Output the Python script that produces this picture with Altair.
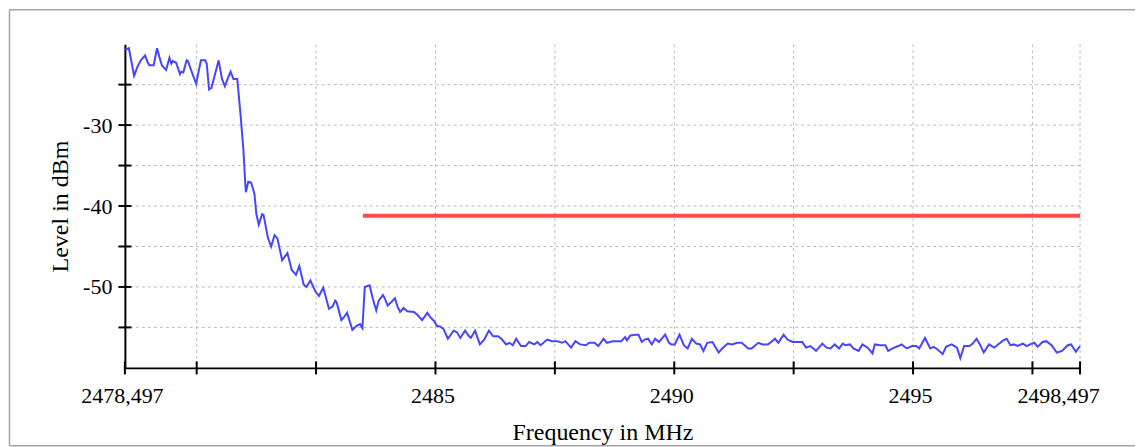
import altair as alt
import pandas as pd

# ---- measured trace (frequency in MHz, level in dBm) ----
freq_a = [2478.50, 2478.58, 2478.69, 2478.76, 2478.83, 2478.92, 2478.97, 2479.01, 2479.10, 2479.17,
          2479.22, 2479.27, 2479.36, 2479.43, 2479.47, 2479.50, 2479.57, 2479.65, 2479.68, 2479.72,
          2479.79, 2479.82, 2479.87, 2479.99, 2480.04, 2480.09, 2480.18, 2480.21, 2480.26, 2480.31,
          2480.35, 2480.46, 2480.53, 2480.59, 2480.66, 2480.71, 2480.77, 2480.85, 2480.92]
level_a = [-20.7, -20.5, -23.9, -22.8, -22.0, -21.4, -22.2, -22.6, -22.6, -20.5,
           -21.6, -22.6, -23.2, -21.7, -22.4, -22.1, -22.3, -23.7, -23.4, -23.5,
           -22.0, -22.1, -23.0, -24.9, -23.4, -22.0, -22.0, -22.4, -25.6, -25.4,
           -24.5, -22.0, -24.3, -25.2, -24.1, -23.4, -24.3, -24.3, -28.8]

freq_b = [2480.98, 2481.01, 2481.03, 2481.08, 2481.14, 2481.21, 2481.25, 2481.30, 2481.37, 2481.40,
          2481.49, 2481.56, 2481.63, 2481.69, 2481.79, 2481.90, 2481.99, 2482.08, 2482.15]
level_b = [-33.2, -36.5, -38.3, -37.0, -37.1, -38.5, -41.0, -42.3, -41.0, -41.1,
           -43.9, -45.0, -43.6, -44.0, -46.7, -45.8, -47.9, -48.5, -47.4]

freq_c = [2482.24, 2482.30, 2482.38, 2482.49, 2482.56, 2482.65, 2482.77, 2482.85, 2482.90, 2482.93,
          2483.03, 2483.09, 2483.15, 2483.26, 2483.35, 2483.42, 2483.47, 2483.52, 2483.62, 2483.69,
          2483.76, 2483.81, 2483.90, 2483.93, 2484.00, 2484.07, 2484.15, 2484.21, 2484.26, 2484.33,
          2484.41, 2484.55, 2484.63, 2484.72, 2484.83, 2484.90, 2484.97, 2485.03, 2485.10, 2485.17,
          2485.26, 2485.38, 2485.45, 2485.52, 2485.62, 2485.69, 2485.74, 2485.83, 2485.93, 2486.02,
          2486.12, 2486.21, 2486.31, 2486.38, 2486.48, 2486.55, 2486.62, 2486.69, 2486.79, 2486.89,
          2486.96, 2487.07, 2487.13, 2487.20, 2487.34, 2487.44, 2487.55, 2487.65, 2487.72, 2487.84,
          2487.93, 2488.03]
level_c = [-49.7, -50.0, -49.2, -50.6, -51.1, -50.1, -52.7, -52.4, -51.7, -51.9,
           -54.1, -53.7, -53.2, -55.3, -54.8, -54.6, -55.1, -50.0, -49.8, -51.5,
           -52.9, -51.7, -51.0, -51.3, -52.3, -51.9, -51.4, -52.5, -53.1, -52.6,
           -53.0, -53.1, -53.5, -54.1, -53.2, -53.8, -54.2, -54.8, -54.9, -55.2,
           -56.4, -55.4, -55.6, -56.3, -55.4, -56.0, -56.3, -55.4, -57.1, -56.5,
           -55.4, -56.1, -56.1, -56.4, -57.1, -56.9, -57.2, -56.4, -57.3, -57.3,
           -56.8, -57.1, -56.8, -57.2, -56.5, -56.7, -56.7, -56.9, -56.7, -57.5,
           -56.7, -57.1]

freq_d = [2488.15, 2488.22, 2488.33, 2488.41, 2488.52, 2488.59, 2488.71, 2488.82, 2488.89, 2488.97,
          2489.01, 2489.08, 2489.19, 2489.25, 2489.32, 2489.38, 2489.45, 2489.53, 2489.60, 2489.68,
          2489.81, 2489.89, 2489.94, 2490.01, 2490.11, 2490.20, 2490.28, 2490.37, 2490.46, 2490.54,
          2490.61, 2490.69, 2490.80, 2490.93, 2491.02, 2491.12, 2491.21, 2491.32, 2491.41, 2491.55,
          2491.62, 2491.76, 2491.85, 2491.96, 2492.03, 2492.11, 2492.18, 2492.29, 2492.37, 2492.48,
          2492.59, 2492.68, 2492.76, 2492.85, 2492.97, 2493.10, 2493.19, 2493.27, 2493.36, 2493.45,
          2493.53, 2493.58, 2493.68, 2493.75, 2493.86, 2493.94, 2494.05, 2494.15, 2494.20, 2494.31,
          2494.42, 2494.48, 2494.57, 2494.69, 2494.76, 2494.87, 2494.98, 2495.07, 2495.13, 2495.25,
          2495.36, 2495.43, 2495.51, 2495.62, 2495.69, 2495.81, 2495.92, 2495.99, 2496.07, 2496.18,
          2496.25, 2496.33, 2496.40, 2496.48, 2496.59, 2496.70, 2496.78, 2496.89, 2496.96, 2497.04,
          2497.11, 2497.19, 2497.30, 2497.38, 2497.45, 2497.54, 2497.61, 2497.71, 2497.79, 2497.90,
          2498.01, 2498.12, 2498.24, 2498.31, 2498.41, 2498.497]
level_d = [-57.2, -56.9, -56.9, -57.3, -56.4, -56.9, -56.7, -56.7, -56.7, -56.2,
           -56.6, -56.0, -55.9, -55.9, -56.8, -56.5, -56.4, -57.1, -56.4, -56.8,
           -55.9, -56.9, -57.1, -57.1, -55.9, -57.2, -57.6, -56.4, -57.0, -57.1,
           -57.9, -56.9, -56.8, -58.1, -57.5, -57.0, -57.1, -56.9, -56.9, -57.6,
           -57.6, -56.9, -57.1, -57.1, -56.8, -56.4, -56.9, -55.9, -56.5, -56.8,
           -56.8, -56.8, -57.5, -57.3, -57.9, -57.0, -57.5, -57.6, -57.1, -57.6,
           -57.0, -57.2, -57.1, -57.6, -57.9, -57.1, -57.5, -58.2, -57.1, -57.2,
           -57.2, -57.9, -57.6, -57.3, -57.1, -57.6, -57.3, -57.3, -57.6, -56.3,
           -57.6, -57.4, -57.7, -58.3, -57.4, -57.1, -57.5, -58.8, -57.3, -57.3,
           -57.0, -56.4, -57.1, -58.1, -57.1, -57.5, -57.1, -56.6, -56.4, -57.2,
           -57.1, -57.3, -57.0, -57.3, -57.1, -56.9, -57.4, -56.8, -56.7, -57.2,
           -58.1, -57.9, -57.2, -57.1, -58.0, -57.3]

# limit line
limit_freq = [2483.48, 2498.497]
limit_level = [-41.2, -41.2]

# axes
x_domain = [2478.497, 2498.497]
y_domain = [-60, -20]
x_label_values = [2478.497, 2485, 2490, 2495, 2498.497]
x_tick_values = [2478.497, 2480, 2482.5, 2485, 2487.5, 2490, 2492.5, 2495, 2497.5, 2498.497]
x_grid_values = [2480, 2482.5, 2485, 2487.5, 2490, 2492.5, 2495, 2497.5, 2498.497]
y_label_values = [-50, -40, -30]
y_tick_values = [-55, -50, -45, -40, -35, -30, -25]

freq = freq_a + freq_b + freq_c + freq_d
level = level_a + level_b + level_c + level_d
assert len(freq) == len(level)

FONT = "Liberation Serif"
W, H = 956, 324

trace = pd.DataFrame({"freq": freq, "level": level})
limit = pd.DataFrame({"freq": limit_freq, "level": limit_level})
xticks = pd.DataFrame({"freq": x_tick_values, "level": [y_domain[0]] * len(x_tick_values)})
yticks = pd.DataFrame({"level": y_tick_values, "freq": [x_domain[0]] * len(y_tick_values)})
xgrid = pd.DataFrame({"freq": x_grid_values})
ygrid = pd.DataFrame({"level": y_tick_values})

xs = alt.Scale(domain=x_domain, nice=False, zero=False)
ys = alt.Scale(domain=y_domain, nice=False, zero=False)

label_expr = "replace(toString(datum.value), '.', ',')"

x_axis = alt.Axis(
    values=x_label_values,
    labelExpr=label_expr,
    ticks=False,
    grid=False,
    domainColor="black",
    domainWidth=2,
    labelFont=FONT,
    labelFontSize=22,
    labelColor="black",
    labelPadding=18,
    labelFlush=False,
    labelOverlap=False,
    labelOffset={"condition": {"test": "datum.value > 2498", "value": -22}, "value": -3},
    titleFont=FONT,
    titleFontSize=24,
    titleFontWeight="normal",
    titleColor="black",
    titlePadding=14,
)
y_axis = alt.Axis(
    values=y_label_values,
    labelExpr=label_expr,
    ticks=False,
    grid=False,
    domainColor="black",
    domainWidth=2,
    labelFont=FONT,
    labelFontSize=22,
    labelColor="black",
    labelPadding=13,
    labelOverlap=False,
    titleFont=FONT,
    titleFontSize=24,
    titleFontWeight="normal",
    titleColor="black",
    titlePadding=10,
)
X = alt.X("freq:Q", scale=xs, axis=x_axis, title="Frequency in MHz")
Y = alt.Y("level:Q", scale=ys, axis=y_axis, title="Level in dBm")

one = alt.Data(values=[{"a": 1}])
frame_style = dict(color="#a4a4a4", strokeWidth=1.5)
frame_top = alt.Chart(one).mark_rule(**frame_style).encode(
    x=alt.value(-115.5), x2=alt.value(1011), y=alt.value(-34.5)
)
frame_left = alt.Chart(one).mark_rule(**frame_style).encode(
    x=alt.value(-115.5), y=alt.value(-34.5), y2=alt.value(402)
)
frame_bottom = alt.Chart(one).mark_rule(**frame_style).encode(
    x=alt.value(-115.5), x2=alt.value(1011), y=alt.value(402)
)

grid_dash = [3, 3]
hgrid = alt.Chart(ygrid).mark_rule(color="#bdbdbd", strokeDash=grid_dash, strokeWidth=1).encode(y=Y)
vgrid = alt.Chart(xgrid).mark_rule(color="#bdbdbd", strokeDash=grid_dash, strokeWidth=1).encode(x=X)

line = alt.Chart(trace).mark_line(color="#4646ff", strokeWidth=2).encode(x=X, y=Y)
limit_line = alt.Chart(limit).mark_line(color="#ff4b4b", strokeWidth=4).encode(x=X, y=Y)

xtick_marks = alt.Chart(xticks).mark_tick(
    orient="vertical", size=13, thickness=2, color="black", opacity=1
).encode(x=X, y=Y)
ytick_marks = alt.Chart(yticks).mark_tick(
    orient="horizontal", size=13, thickness=2, color="black", opacity=1
).encode(x=X, y=Y)

chart = alt.layer(
    frame_top, frame_left, frame_bottom, hgrid, vgrid, line, limit_line, xtick_marks, ytick_marks
).properties(
    width=W, height=H, padding=0, background="white"
).configure_view(stroke=None)

chart.save("out.html", embed_options={"renderer": "svg", "actions": False})
